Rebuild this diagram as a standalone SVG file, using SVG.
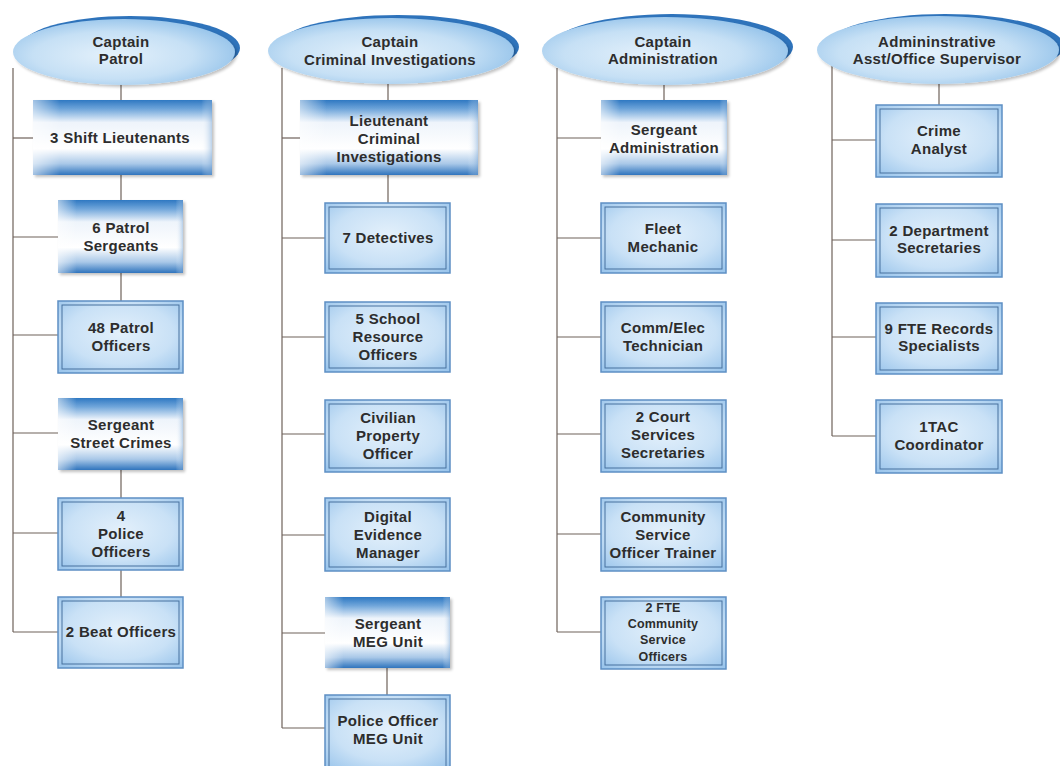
<svg xmlns="http://www.w3.org/2000/svg" width="1060" height="766" viewBox="0 0 1060 766">
<defs>
<radialGradient id="ellG" cx="0.45" cy="0.55" r="0.6">
<stop offset="0" stop-color="#e4f1fb"/>
<stop offset="0.6" stop-color="#c6e0f5"/>
<stop offset="1" stop-color="#93c2ea"/>
</radialGradient>
<linearGradient id="shade" x1="0" y1="0" x2="0" y2="1">
<stop offset="0" stop-color="#2f78c2"/>
<stop offset="0.12" stop-color="#6fa5da"/>
<stop offset="0.3" stop-color="#eef4fb"/>
<stop offset="0.65" stop-color="#ffffff"/>
<stop offset="0.85" stop-color="#a9c8e8"/>
<stop offset="1" stop-color="#2f74bd"/>
</linearGradient>
<linearGradient id="shadeH" x1="0" y1="0" x2="1" y2="0">
<stop offset="0" stop-color="#ffffff" stop-opacity="0.55"/>
<stop offset="0.15" stop-color="#ffffff" stop-opacity="0"/>
<stop offset="0.94" stop-color="#ffffff" stop-opacity="0"/>
<stop offset="1" stop-color="#7aa7d6" stop-opacity="0.5"/>
</linearGradient>
<radialGradient id="boxG" cx="0.5" cy="0.45" r="0.7">
<stop offset="0" stop-color="#e3f0fb"/>
<stop offset="0.6" stop-color="#c9e1f6"/>
<stop offset="1" stop-color="#9cc6ec"/>
</radialGradient>
<filter id="sh" x="-10%" y="-10%" width="130%" height="130%">
<feGaussianBlur in="SourceAlpha" stdDeviation="1.5"/>
<feOffset dx="2" dy="2"/>
<feComponentTransfer><feFuncA type="linear" slope="0.25"/></feComponentTransfer>
<feMerge><feMergeNode/><feMergeNode in="SourceGraphic"/></feMerge>
</filter>
</defs>
<style>
text{font-family:"Liberation Sans",Arial,sans-serif;font-weight:bold;font-size:15px;letter-spacing:0.3px;fill:#2d2d2d;text-anchor:middle}
.sm{font-size:12.5px;letter-spacing:0.2px}
.crescent{fill:#2e73bb}
.ell{fill:url(#ellG)}
.grad{fill:url(#shade)}
.gradH{fill:url(#shadeH)}
.dbl{fill:url(#boxG);stroke:#5d8fc4;stroke-width:1.5}
.inner{fill:none;stroke:#46709e;stroke-width:1}
.conn line{stroke:#6e625a;stroke-width:1.2}
</style>
<rect width="1060" height="766" fill="#ffffff"/>

<g class="conn" id="connectors">
<line x1="13" y1="68" x2="13" y2="632"/>
<line x1="13" y1="138" x2="33" y2="138"/>
<line x1="13" y1="237" x2="58" y2="237"/>
<line x1="13" y1="335" x2="58" y2="335"/>
<line x1="13" y1="433" x2="58" y2="433"/>
<line x1="13" y1="533" x2="58" y2="533"/>
<line x1="13" y1="632" x2="58" y2="632"/>
<line x1="121" y1="84" x2="121" y2="100"/>
<line x1="121" y1="175" x2="121" y2="200"/>
<line x1="121" y1="273" x2="121" y2="301"/>
<line x1="121" y1="470" x2="121" y2="498"/>
<line x1="121" y1="570" x2="121" y2="597"/>
<line x1="282" y1="68" x2="282" y2="728"/>
<line x1="282" y1="138" x2="300" y2="138"/>
<line x1="282" y1="238" x2="325" y2="238"/>
<line x1="282" y1="337" x2="325" y2="337"/>
<line x1="282" y1="434" x2="325" y2="434"/>
<line x1="282" y1="535" x2="325" y2="535"/>
<line x1="282" y1="633" x2="325" y2="633"/>
<line x1="282" y1="728" x2="325" y2="728"/>
<line x1="388" y1="84" x2="388" y2="100"/>
<line x1="388" y1="175" x2="388" y2="203"/>
<line x1="387" y1="668" x2="387" y2="695"/>
<line x1="557" y1="68" x2="557" y2="632"/>
<line x1="557" y1="138" x2="601" y2="138"/>
<line x1="557" y1="238" x2="601" y2="238"/>
<line x1="557" y1="337" x2="601" y2="337"/>
<line x1="557" y1="434" x2="601" y2="434"/>
<line x1="557" y1="534" x2="601" y2="534"/>
<line x1="557" y1="632" x2="601" y2="632"/>
<line x1="664" y1="84" x2="664" y2="100"/>
<line x1="832" y1="62" x2="832" y2="436"/>
<line x1="832" y1="140" x2="876" y2="140"/>
<line x1="832" y1="240" x2="876" y2="240"/>
<line x1="832" y1="337" x2="876" y2="337"/>
<line x1="832" y1="436" x2="876" y2="436"/>
<line x1="939" y1="84" x2="939" y2="105"/>
</g>

<g id="captain-patrol">
<ellipse class="crescent" cx="130" cy="48" rx="110" ry="32"/>
<ellipse class="ell" cx="124" cy="52" rx="111" ry="33" filter="url(#sh)"/>
<text x="121" y="47">Captain</text>
<text x="121" y="64">Patrol</text>
</g>
<g id="captain-criminal">
<ellipse class="crescent" cx="398" cy="47" rx="121" ry="32"/>
<ellipse class="ell" cx="391" cy="51" rx="123" ry="33" filter="url(#sh)"/>
<text x="390" y="47">Captain</text>
<text x="390" y="65">Criminal Investigations</text>
</g>
<g id="captain-admin">
<ellipse class="crescent" cx="672" cy="47" rx="121" ry="33"/>
<ellipse class="ell" cx="665" cy="51" rx="123" ry="34" filter="url(#sh)"/>
<text x="663" y="47">Captain</text>
<text x="663" y="64">Administration</text>
</g>
<g id="admin-asst">
<ellipse class="crescent" cx="945" cy="46" rx="119" ry="32"/>
<ellipse class="ell" cx="938" cy="50" rx="121" ry="34" filter="url(#sh)"/>
<text x="937" y="47">Admininstrative</text>
<text x="937" y="64">Asst/Office Supervisor</text>
</g>

<g id="shift-lieutenants">
<rect class="grad" x="33" y="100" width="179" height="75" filter="url(#sh)"/>
<rect class="gradH" x="33" y="100" width="179" height="75"/>
<text x="120" y="143">3 Shift Lieutenants</text>
</g>
<g id="patrol-sergeants">
<rect class="grad" x="58" y="200" width="125" height="73" filter="url(#sh)"/>
<rect class="gradH" x="58" y="200" width="125" height="73"/>
<text x="121" y="233">6 Patrol</text>
<text x="121" y="251">Sergeants</text>
</g>
<g id="patrol-officers">
<rect class="dbl" x="58" y="301" width="125" height="72"/>
<rect class="inner" x="62" y="305" width="117" height="64"/>
<text x="121" y="333">48 Patrol</text>
<text x="121" y="351">Officers</text>
</g>
<g id="sergeant-street-crimes">
<rect class="grad" x="58" y="398" width="125" height="72" filter="url(#sh)"/>
<rect class="gradH" x="58" y="398" width="125" height="72"/>
<text x="121" y="430">Sergeant</text>
<text x="121" y="448">Street Crimes</text>
</g>
<g id="police-officers-4">
<rect class="dbl" x="58" y="498" width="125" height="72"/>
<rect class="inner" x="62" y="502" width="117" height="64"/>
<text x="121" y="521">4</text>
<text x="121" y="539">Police</text>
<text x="121" y="557">Officers</text>
</g>
<g id="beat-officers">
<rect class="dbl" x="58" y="597" width="125" height="71"/>
<rect class="inner" x="62" y="601" width="117" height="63"/>
<text x="121" y="637">2 Beat Officers</text>
</g>

<g id="lieutenant-criminal">
<rect class="grad" x="300" y="100" width="178" height="75" filter="url(#sh)"/>
<rect class="gradH" x="300" y="100" width="178" height="75"/>
<text x="389" y="126">Lieutenant</text>
<text x="389" y="144">Criminal</text>
<text x="389" y="162">Investigations</text>
</g>
<g id="detectives">
<rect class="dbl" x="325" y="203" width="125" height="70"/>
<rect class="inner" x="329" y="207" width="117" height="62"/>
<text x="388" y="243">7 Detectives</text>
</g>
<g id="school-resource">
<rect class="dbl" x="325" y="302" width="125" height="70"/>
<rect class="inner" x="329" y="306" width="117" height="62"/>
<text x="388" y="324">5 School</text>
<text x="388" y="342">Resource</text>
<text x="388" y="360">Officers</text>
</g>
<g id="civilian-property">
<rect class="dbl" x="325" y="400" width="125" height="72"/>
<rect class="inner" x="329" y="404" width="117" height="64"/>
<text x="388" y="423">Civilian</text>
<text x="388" y="441">Property</text>
<text x="388" y="459">Officer</text>
</g>
<g id="digital-evidence">
<rect class="dbl" x="325" y="498" width="125" height="73"/>
<rect class="inner" x="329" y="502" width="117" height="65"/>
<text x="388" y="522">Digital</text>
<text x="388" y="540">Evidence</text>
<text x="388" y="558">Manager</text>
</g>
<g id="sergeant-meg">
<rect class="grad" x="325" y="597" width="125" height="71" filter="url(#sh)"/>
<rect class="gradH" x="325" y="597" width="125" height="71"/>
<text x="388" y="629">Sergeant</text>
<text x="388" y="647">MEG Unit</text>
</g>
<g id="police-officer-meg">
<rect class="dbl" x="325" y="695" width="125" height="76"/>
<rect class="inner" x="329" y="699" width="117" height="68"/>
<text x="388" y="726">Police Officer</text>
<text x="388" y="744">MEG Unit</text>
</g>

<g id="sergeant-admin">
<rect class="grad" x="601" y="100" width="126" height="75" filter="url(#sh)"/>
<rect class="gradH" x="601" y="100" width="126" height="75"/>
<text x="664" y="135">Sergeant</text>
<text x="664" y="153">Administration</text>
</g>
<g id="fleet-mechanic">
<rect class="dbl" x="601" y="203" width="125" height="70"/>
<rect class="inner" x="605" y="207" width="117" height="62"/>
<text x="663" y="234">Fleet</text>
<text x="663" y="252">Mechanic</text>
</g>
<g id="comm-elec">
<rect class="dbl" x="601" y="302" width="125" height="70"/>
<rect class="inner" x="605" y="306" width="117" height="62"/>
<text x="663" y="333">Comm/Elec</text>
<text x="663" y="351">Technician</text>
</g>
<g id="court-services">
<rect class="dbl" x="601" y="400" width="125" height="72"/>
<rect class="inner" x="605" y="404" width="117" height="64"/>
<text x="663" y="422">2 Court</text>
<text x="663" y="440">Services</text>
<text x="663" y="458">Secretaries</text>
</g>
<g id="cso-trainer">
<rect class="dbl" x="601" y="498" width="125" height="73"/>
<rect class="inner" x="605" y="502" width="117" height="65"/>
<text x="663" y="522">Community</text>
<text x="663" y="540">Service</text>
<text x="663" y="558">Officer Trainer</text>
</g>
<g id="cso-officers">
<rect class="dbl" x="601" y="597" width="125" height="72"/>
<rect class="inner" x="605" y="601" width="117" height="64"/>
<text class="sm" x="663" y="612">2 FTE</text>
<text class="sm" x="663" y="628">Community</text>
<text class="sm" x="663" y="644">Service</text>
<text class="sm" x="663" y="661">Officers</text>
</g>

<g id="crime-analyst">
<rect class="dbl" x="876" y="105" width="126" height="72"/>
<rect class="inner" x="880" y="109" width="118" height="64"/>
<text x="939" y="136">Crime</text>
<text x="939" y="154">Analyst</text>
</g>
<g id="dept-secretaries">
<rect class="dbl" x="876" y="204" width="126" height="73"/>
<rect class="inner" x="880" y="208" width="118" height="65"/>
<text x="939" y="236">2 Department</text>
<text x="939" y="253">Secretaries</text>
</g>
<g id="records-specialists">
<rect class="dbl" x="876" y="303" width="126" height="71"/>
<rect class="inner" x="880" y="307" width="118" height="63"/>
<text x="939" y="334">9 FTE Records</text>
<text x="939" y="351">Specialists</text>
</g>
<g id="tac-coordinator">
<rect class="dbl" x="876" y="400" width="126" height="73"/>
<rect class="inner" x="880" y="404" width="118" height="65"/>
<text x="939" y="432">1TAC</text>
<text x="939" y="450">Coordinator</text>
</g>
</svg>
